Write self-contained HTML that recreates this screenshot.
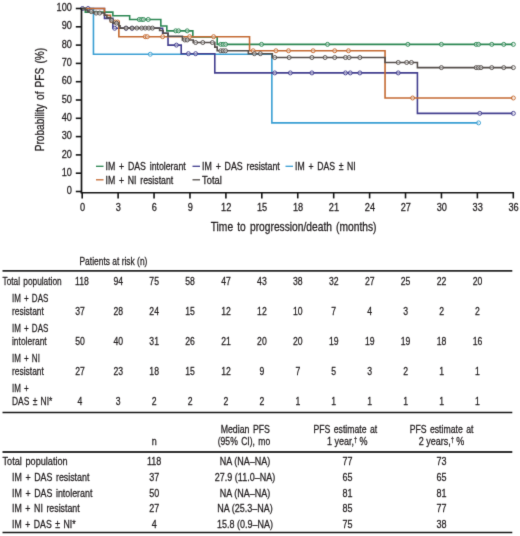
<!DOCTYPE html>
<html><head><meta charset="utf-8"><style>
html,body{margin:0;padding:0;background:#fff;}
svg{display:block;font-family:"Liberation Sans", sans-serif;}
</style></head><body>
<svg width="520" height="536" viewBox="0 0 520 536">
<defs><filter id="bl" color-interpolation-filters="sRGB" filterUnits="userSpaceOnUse" x="0" y="0" width="520" height="536"><feConvolveMatrix order="3" kernelMatrix="1 8 1 8 64 8 1 8 1" divisor="100" edgeMode="duplicate"/></filter></defs>
<g filter="url(#bl)"><rect x="0" y="0" width="520" height="536" fill="#fff"/>
<path d="M81.70,8.50 H93.45 V54.25 H271.86 V122.88 H478.57" fill="none" stroke="#3a9fd3" stroke-width="1.6"/><circle cx="150.28" cy="54.25" r="2.0" fill="#fff" fill-opacity="0.45" stroke="#3a9fd3" stroke-width="0.95"/><circle cx="478.57" cy="122.88" r="2.0" fill="#fff" fill-opacity="0.45" stroke="#3a9fd3" stroke-width="0.95"/>
<path d="M81.70,8.50 H104.48 V18.38 H112.87 V28.26 H162.63 V33.20 H168.03 V45.10 H181.22 V53.70 H214.79 V72.92 H417.42 V113.36 H513.34" fill="none" stroke="#433f8f" stroke-width="1.6"/><circle cx="82.54" cy="8.50" r="2.0" fill="#fff" fill-opacity="0.45" stroke="#433f8f" stroke-width="0.95"/><circle cx="88.05" cy="8.50" r="2.0" fill="#fff" fill-opacity="0.45" stroke="#433f8f" stroke-width="0.95"/><circle cx="114.67" cy="28.26" r="2.0" fill="#fff" fill-opacity="0.45" stroke="#433f8f" stroke-width="0.95"/><circle cx="126.06" cy="28.26" r="2.0" fill="#fff" fill-opacity="0.45" stroke="#433f8f" stroke-width="0.95"/><circle cx="132.06" cy="28.26" r="2.0" fill="#fff" fill-opacity="0.45" stroke="#433f8f" stroke-width="0.95"/><circle cx="176.42" cy="45.10" r="2.0" fill="#fff" fill-opacity="0.45" stroke="#433f8f" stroke-width="0.95"/><circle cx="188.41" cy="53.70" r="2.0" fill="#fff" fill-opacity="0.45" stroke="#433f8f" stroke-width="0.95"/><circle cx="195.61" cy="53.70" r="2.0" fill="#fff" fill-opacity="0.45" stroke="#433f8f" stroke-width="0.95"/><circle cx="274.74" cy="72.92" r="2.0" fill="#fff" fill-opacity="0.45" stroke="#433f8f" stroke-width="0.95"/><circle cx="290.33" cy="72.92" r="2.0" fill="#fff" fill-opacity="0.45" stroke="#433f8f" stroke-width="0.95"/><circle cx="311.91" cy="72.92" r="2.0" fill="#fff" fill-opacity="0.45" stroke="#433f8f" stroke-width="0.95"/><circle cx="345.48" cy="72.92" r="2.0" fill="#fff" fill-opacity="0.45" stroke="#433f8f" stroke-width="0.95"/><circle cx="350.28" cy="72.92" r="2.0" fill="#fff" fill-opacity="0.45" stroke="#433f8f" stroke-width="0.95"/><circle cx="359.87" cy="72.92" r="2.0" fill="#fff" fill-opacity="0.45" stroke="#433f8f" stroke-width="0.95"/><circle cx="398.24" cy="72.92" r="2.0" fill="#fff" fill-opacity="0.45" stroke="#433f8f" stroke-width="0.95"/><circle cx="479.77" cy="113.36" r="2.0" fill="#fff" fill-opacity="0.45" stroke="#433f8f" stroke-width="0.95"/><circle cx="513.34" cy="113.36" r="2.0" fill="#fff" fill-opacity="0.45" stroke="#433f8f" stroke-width="0.95"/>
<path d="M81.70,8.50 H85.30 V12.16 H112.87 V15.82 H129.66 V19.48 H160.83 V26.07 H166.83 V30.83 H192.85 V36.86 H217.19 V44.37 H513.34" fill="none" stroke="#2c8753" stroke-width="1.6"/><circle cx="139.25" cy="19.48" r="2.0" fill="#fff" fill-opacity="0.45" stroke="#2c8753" stroke-width="0.95"/><circle cx="141.65" cy="19.48" r="2.0" fill="#fff" fill-opacity="0.45" stroke="#2c8753" stroke-width="0.95"/><circle cx="143.45" cy="19.48" r="2.0" fill="#fff" fill-opacity="0.45" stroke="#2c8753" stroke-width="0.95"/><circle cx="148.24" cy="19.48" r="2.0" fill="#fff" fill-opacity="0.45" stroke="#2c8753" stroke-width="0.95"/><circle cx="175.70" cy="30.83" r="2.0" fill="#fff" fill-opacity="0.45" stroke="#2c8753" stroke-width="0.95"/><circle cx="178.58" cy="30.83" r="2.0" fill="#fff" fill-opacity="0.45" stroke="#2c8753" stroke-width="0.95"/><circle cx="187.21" cy="30.83" r="2.0" fill="#fff" fill-opacity="0.45" stroke="#2c8753" stroke-width="0.95"/><circle cx="220.78" cy="44.37" r="2.0" fill="#fff" fill-opacity="0.45" stroke="#2c8753" stroke-width="0.95"/><circle cx="223.18" cy="44.37" r="2.0" fill="#fff" fill-opacity="0.45" stroke="#2c8753" stroke-width="0.95"/><circle cx="225.58" cy="44.37" r="2.0" fill="#fff" fill-opacity="0.45" stroke="#2c8753" stroke-width="0.95"/><circle cx="261.55" cy="44.37" r="2.0" fill="#fff" fill-opacity="0.45" stroke="#2c8753" stroke-width="0.95"/><circle cx="327.50" cy="44.37" r="2.0" fill="#fff" fill-opacity="0.45" stroke="#2c8753" stroke-width="0.95"/><circle cx="407.83" cy="44.37" r="2.0" fill="#fff" fill-opacity="0.45" stroke="#2c8753" stroke-width="0.95"/><circle cx="441.40" cy="44.37" r="2.0" fill="#fff" fill-opacity="0.45" stroke="#2c8753" stroke-width="0.95"/><circle cx="476.17" cy="44.37" r="2.0" fill="#fff" fill-opacity="0.45" stroke="#2c8753" stroke-width="0.95"/><circle cx="478.57" cy="44.37" r="2.0" fill="#fff" fill-opacity="0.45" stroke="#2c8753" stroke-width="0.95"/><circle cx="491.76" cy="44.37" r="2.0" fill="#fff" fill-opacity="0.45" stroke="#2c8753" stroke-width="0.95"/><circle cx="503.75" cy="44.37" r="2.0" fill="#fff" fill-opacity="0.45" stroke="#2c8753" stroke-width="0.95"/><circle cx="513.34" cy="44.37" r="2.0" fill="#fff" fill-opacity="0.45" stroke="#2c8753" stroke-width="0.95"/>
<path d="M81.70,8.50 H104.48 V15.27 H110.48 V22.04 H118.87 V36.68 H249.56 V50.77 H385.05 V97.99 H513.34" fill="none" stroke="#c46a32" stroke-width="1.6"/><circle cx="115.27" cy="22.04" r="2.0" fill="#fff" fill-opacity="0.45" stroke="#c46a32" stroke-width="0.95"/><circle cx="117.67" cy="22.04" r="2.0" fill="#fff" fill-opacity="0.45" stroke="#c46a32" stroke-width="0.95"/><circle cx="145.25" cy="36.68" r="2.0" fill="#fff" fill-opacity="0.45" stroke="#c46a32" stroke-width="0.95"/><circle cx="147.29" cy="36.68" r="2.0" fill="#fff" fill-opacity="0.45" stroke="#c46a32" stroke-width="0.95"/><circle cx="162.63" cy="36.68" r="2.0" fill="#fff" fill-opacity="0.45" stroke="#c46a32" stroke-width="0.95"/><circle cx="189.61" cy="36.68" r="2.0" fill="#fff" fill-opacity="0.45" stroke="#c46a32" stroke-width="0.95"/><circle cx="213.59" cy="36.68" r="2.0" fill="#fff" fill-opacity="0.45" stroke="#c46a32" stroke-width="0.95"/><circle cx="253.16" cy="50.77" r="2.0" fill="#fff" fill-opacity="0.45" stroke="#c46a32" stroke-width="0.95"/><circle cx="275.94" cy="50.77" r="2.0" fill="#fff" fill-opacity="0.45" stroke="#c46a32" stroke-width="0.95"/><circle cx="288.53" cy="50.77" r="2.0" fill="#fff" fill-opacity="0.45" stroke="#c46a32" stroke-width="0.95"/><circle cx="313.11" cy="50.77" r="2.0" fill="#fff" fill-opacity="0.45" stroke="#c46a32" stroke-width="0.95"/><circle cx="334.69" cy="50.77" r="2.0" fill="#fff" fill-opacity="0.45" stroke="#c46a32" stroke-width="0.95"/><circle cx="348.48" cy="50.77" r="2.0" fill="#fff" fill-opacity="0.45" stroke="#c46a32" stroke-width="0.95"/><circle cx="412.62" cy="97.99" r="2.0" fill="#fff" fill-opacity="0.45" stroke="#c46a32" stroke-width="0.95"/><circle cx="513.34" cy="97.99" r="2.0" fill="#fff" fill-opacity="0.45" stroke="#c46a32" stroke-width="0.95"/>
<path d="M81.70,8.50 H85.30 V9.96 H87.70 V11.61 H93.45 V13.07 H104.48 V15.27 H106.88 V17.65 H110.48 V20.39 H112.87 V23.14 H118.87 V25.88 H120.07 V28.08 H159.63 V30.46 H163.23 V33.20 H168.03 V36.32 H182.42 V39.98 H193.21 V42.54 H214.79 V47.11 H217.19 V50.77 H248.36 V53.70 H272.34 V57.54 H385.05 V62.48 H417.42 V67.61 H513.34" fill="none" stroke="#544e4b" stroke-width="1.6"/><circle cx="91.29" cy="11.61" r="2.0" fill="#fff" fill-opacity="0.45" stroke="#544e4b" stroke-width="0.95"/><circle cx="96.09" cy="13.07" r="2.0" fill="#fff" fill-opacity="0.45" stroke="#544e4b" stroke-width="0.95"/><circle cx="99.69" cy="13.07" r="2.0" fill="#fff" fill-opacity="0.45" stroke="#544e4b" stroke-width="0.95"/><circle cx="111.68" cy="20.39" r="2.0" fill="#fff" fill-opacity="0.45" stroke="#544e4b" stroke-width="0.95"/><circle cx="116.47" cy="23.14" r="2.0" fill="#fff" fill-opacity="0.45" stroke="#544e4b" stroke-width="0.95"/><circle cx="126.06" cy="28.08" r="2.0" fill="#fff" fill-opacity="0.45" stroke="#544e4b" stroke-width="0.95"/><circle cx="132.06" cy="28.08" r="2.0" fill="#fff" fill-opacity="0.45" stroke="#544e4b" stroke-width="0.95"/><circle cx="136.85" cy="28.08" r="2.0" fill="#fff" fill-opacity="0.45" stroke="#544e4b" stroke-width="0.95"/><circle cx="141.65" cy="28.08" r="2.0" fill="#fff" fill-opacity="0.45" stroke="#544e4b" stroke-width="0.95"/><circle cx="145.25" cy="28.08" r="2.0" fill="#fff" fill-opacity="0.45" stroke="#544e4b" stroke-width="0.95"/><circle cx="148.84" cy="28.08" r="2.0" fill="#fff" fill-opacity="0.45" stroke="#544e4b" stroke-width="0.95"/><circle cx="152.44" cy="28.08" r="2.0" fill="#fff" fill-opacity="0.45" stroke="#544e4b" stroke-width="0.95"/><circle cx="184.81" cy="39.98" r="2.0" fill="#fff" fill-opacity="0.45" stroke="#544e4b" stroke-width="0.95"/><circle cx="187.21" cy="39.98" r="2.0" fill="#fff" fill-opacity="0.45" stroke="#544e4b" stroke-width="0.95"/><circle cx="195.61" cy="42.54" r="2.0" fill="#fff" fill-opacity="0.45" stroke="#544e4b" stroke-width="0.95"/><circle cx="202.80" cy="42.54" r="2.0" fill="#fff" fill-opacity="0.45" stroke="#544e4b" stroke-width="0.95"/><circle cx="212.39" cy="42.54" r="2.0" fill="#fff" fill-opacity="0.45" stroke="#544e4b" stroke-width="0.95"/><circle cx="220.78" cy="50.77" r="2.0" fill="#fff" fill-opacity="0.45" stroke="#544e4b" stroke-width="0.95"/><circle cx="223.18" cy="50.77" r="2.0" fill="#fff" fill-opacity="0.45" stroke="#544e4b" stroke-width="0.95"/><circle cx="225.58" cy="50.77" r="2.0" fill="#fff" fill-opacity="0.45" stroke="#544e4b" stroke-width="0.95"/><circle cx="254.36" cy="53.70" r="2.0" fill="#fff" fill-opacity="0.45" stroke="#544e4b" stroke-width="0.95"/><circle cx="260.35" cy="53.70" r="2.0" fill="#fff" fill-opacity="0.45" stroke="#544e4b" stroke-width="0.95"/><circle cx="274.74" cy="57.54" r="2.0" fill="#fff" fill-opacity="0.45" stroke="#544e4b" stroke-width="0.95"/><circle cx="289.13" cy="57.54" r="2.0" fill="#fff" fill-opacity="0.45" stroke="#544e4b" stroke-width="0.95"/><circle cx="311.91" cy="57.54" r="2.0" fill="#fff" fill-opacity="0.45" stroke="#544e4b" stroke-width="0.95"/><circle cx="325.10" cy="57.54" r="2.0" fill="#fff" fill-opacity="0.45" stroke="#544e4b" stroke-width="0.95"/><circle cx="334.69" cy="57.54" r="2.0" fill="#fff" fill-opacity="0.45" stroke="#544e4b" stroke-width="0.95"/><circle cx="345.48" cy="57.54" r="2.0" fill="#fff" fill-opacity="0.45" stroke="#544e4b" stroke-width="0.95"/><circle cx="349.08" cy="57.54" r="2.0" fill="#fff" fill-opacity="0.45" stroke="#544e4b" stroke-width="0.95"/><circle cx="359.87" cy="57.54" r="2.0" fill="#fff" fill-opacity="0.45" stroke="#544e4b" stroke-width="0.95"/><circle cx="398.24" cy="62.48" r="2.0" fill="#fff" fill-opacity="0.45" stroke="#544e4b" stroke-width="0.95"/><circle cx="406.63" cy="62.48" r="2.0" fill="#fff" fill-opacity="0.45" stroke="#544e4b" stroke-width="0.95"/><circle cx="411.43" cy="62.48" r="2.0" fill="#fff" fill-opacity="0.45" stroke="#544e4b" stroke-width="0.95"/><circle cx="441.40" cy="67.61" r="2.0" fill="#fff" fill-opacity="0.45" stroke="#544e4b" stroke-width="0.95"/><circle cx="476.17" cy="67.61" r="2.0" fill="#fff" fill-opacity="0.45" stroke="#544e4b" stroke-width="0.95"/><circle cx="478.57" cy="67.61" r="2.0" fill="#fff" fill-opacity="0.45" stroke="#544e4b" stroke-width="0.95"/><circle cx="480.97" cy="67.61" r="2.0" fill="#fff" fill-opacity="0.45" stroke="#544e4b" stroke-width="0.95"/><circle cx="491.76" cy="67.61" r="2.0" fill="#fff" fill-opacity="0.45" stroke="#544e4b" stroke-width="0.95"/><circle cx="503.75" cy="67.61" r="2.0" fill="#fff" fill-opacity="0.45" stroke="#544e4b" stroke-width="0.95"/><circle cx="513.34" cy="67.61" r="2.0" fill="#fff" fill-opacity="0.45" stroke="#544e4b" stroke-width="0.95"/>
<line x1="80.70" y1="192.80" x2="514.10" y2="192.80" stroke="#161616" stroke-width="1.6"/>
<line x1="81.50" y1="8.30" x2="81.50" y2="193.30" stroke="#161616" stroke-width="1.7"/>
<line x1="75.80" y1="191.50" x2="81.50" y2="191.50" stroke="#161616" stroke-width="1.6"/>
<text transform="translate(71.90,194.10) scale(0.86,1)" font-size="10.7" text-anchor="end" fill="#231f20" stroke="#231f20" stroke-width="0.28">0</text>
<line x1="75.80" y1="173.20" x2="81.50" y2="173.20" stroke="#161616" stroke-width="1.6"/>
<text transform="translate(71.90,175.80) scale(0.86,1)" font-size="10.7" text-anchor="end" fill="#231f20" stroke="#231f20" stroke-width="0.28">10</text>
<line x1="75.80" y1="154.90" x2="81.50" y2="154.90" stroke="#161616" stroke-width="1.6"/>
<text transform="translate(71.90,157.50) scale(0.86,1)" font-size="10.7" text-anchor="end" fill="#231f20" stroke="#231f20" stroke-width="0.28">20</text>
<line x1="75.80" y1="136.60" x2="81.50" y2="136.60" stroke="#161616" stroke-width="1.6"/>
<text transform="translate(71.90,139.20) scale(0.86,1)" font-size="10.7" text-anchor="end" fill="#231f20" stroke="#231f20" stroke-width="0.28">30</text>
<line x1="75.80" y1="118.30" x2="81.50" y2="118.30" stroke="#161616" stroke-width="1.6"/>
<text transform="translate(71.90,120.90) scale(0.86,1)" font-size="10.7" text-anchor="end" fill="#231f20" stroke="#231f20" stroke-width="0.28">40</text>
<line x1="75.80" y1="100.00" x2="81.50" y2="100.00" stroke="#161616" stroke-width="1.6"/>
<text transform="translate(71.90,102.60) scale(0.86,1)" font-size="10.7" text-anchor="end" fill="#231f20" stroke="#231f20" stroke-width="0.28">50</text>
<line x1="75.80" y1="81.70" x2="81.50" y2="81.70" stroke="#161616" stroke-width="1.6"/>
<text transform="translate(71.90,84.30) scale(0.86,1)" font-size="10.7" text-anchor="end" fill="#231f20" stroke="#231f20" stroke-width="0.28">60</text>
<line x1="75.80" y1="63.40" x2="81.50" y2="63.40" stroke="#161616" stroke-width="1.6"/>
<text transform="translate(71.90,66.00) scale(0.86,1)" font-size="10.7" text-anchor="end" fill="#231f20" stroke="#231f20" stroke-width="0.28">70</text>
<line x1="75.80" y1="45.10" x2="81.50" y2="45.10" stroke="#161616" stroke-width="1.6"/>
<text transform="translate(71.90,47.70) scale(0.86,1)" font-size="10.7" text-anchor="end" fill="#231f20" stroke="#231f20" stroke-width="0.28">80</text>
<line x1="75.80" y1="26.80" x2="81.50" y2="26.80" stroke="#161616" stroke-width="1.6"/>
<text transform="translate(71.90,29.40) scale(0.86,1)" font-size="10.7" text-anchor="end" fill="#231f20" stroke="#231f20" stroke-width="0.28">90</text>
<line x1="75.80" y1="8.50" x2="81.50" y2="8.50" stroke="#161616" stroke-width="1.6"/>
<text transform="translate(71.90,11.10) scale(0.86,1)" font-size="10.7" text-anchor="end" fill="#231f20" stroke="#231f20" stroke-width="0.28">100</text>
<line x1="82.20" y1="192.80" x2="82.20" y2="198.40" stroke="#161616" stroke-width="1.6"/>
<text transform="translate(82.50,210.50) scale(0.86,1)" font-size="10.7" text-anchor="middle" fill="#231f20" stroke="#231f20" stroke-width="0.28">0</text>
<line x1="118.12" y1="192.80" x2="118.12" y2="198.40" stroke="#161616" stroke-width="1.6"/>
<text transform="translate(118.42,210.50) scale(0.86,1)" font-size="10.7" text-anchor="middle" fill="#231f20" stroke="#231f20" stroke-width="0.28">3</text>
<line x1="154.05" y1="192.80" x2="154.05" y2="198.40" stroke="#161616" stroke-width="1.6"/>
<text transform="translate(154.35,210.50) scale(0.86,1)" font-size="10.7" text-anchor="middle" fill="#231f20" stroke="#231f20" stroke-width="0.28">6</text>
<line x1="189.97" y1="192.80" x2="189.97" y2="198.40" stroke="#161616" stroke-width="1.6"/>
<text transform="translate(190.28,210.50) scale(0.86,1)" font-size="10.7" text-anchor="middle" fill="#231f20" stroke="#231f20" stroke-width="0.28">9</text>
<line x1="225.90" y1="192.80" x2="225.90" y2="198.40" stroke="#161616" stroke-width="1.6"/>
<text transform="translate(226.20,210.50) scale(0.86,1)" font-size="10.7" text-anchor="middle" fill="#231f20" stroke="#231f20" stroke-width="0.28">12</text>
<line x1="261.82" y1="192.80" x2="261.82" y2="198.40" stroke="#161616" stroke-width="1.6"/>
<text transform="translate(262.12,210.50) scale(0.86,1)" font-size="10.7" text-anchor="middle" fill="#231f20" stroke="#231f20" stroke-width="0.28">15</text>
<line x1="297.75" y1="192.80" x2="297.75" y2="198.40" stroke="#161616" stroke-width="1.6"/>
<text transform="translate(298.05,210.50) scale(0.86,1)" font-size="10.7" text-anchor="middle" fill="#231f20" stroke="#231f20" stroke-width="0.28">18</text>
<line x1="333.68" y1="192.80" x2="333.68" y2="198.40" stroke="#161616" stroke-width="1.6"/>
<text transform="translate(333.98,210.50) scale(0.86,1)" font-size="10.7" text-anchor="middle" fill="#231f20" stroke="#231f20" stroke-width="0.28">21</text>
<line x1="369.60" y1="192.80" x2="369.60" y2="198.40" stroke="#161616" stroke-width="1.6"/>
<text transform="translate(369.90,210.50) scale(0.86,1)" font-size="10.7" text-anchor="middle" fill="#231f20" stroke="#231f20" stroke-width="0.28">24</text>
<line x1="405.52" y1="192.80" x2="405.52" y2="198.40" stroke="#161616" stroke-width="1.6"/>
<text transform="translate(405.82,210.50) scale(0.86,1)" font-size="10.7" text-anchor="middle" fill="#231f20" stroke="#231f20" stroke-width="0.28">27</text>
<line x1="441.45" y1="192.80" x2="441.45" y2="198.40" stroke="#161616" stroke-width="1.6"/>
<text transform="translate(441.75,210.50) scale(0.86,1)" font-size="10.7" text-anchor="middle" fill="#231f20" stroke="#231f20" stroke-width="0.28">30</text>
<line x1="477.38" y1="192.80" x2="477.38" y2="198.40" stroke="#161616" stroke-width="1.6"/>
<text transform="translate(477.68,210.50) scale(0.86,1)" font-size="10.7" text-anchor="middle" fill="#231f20" stroke="#231f20" stroke-width="0.28">33</text>
<line x1="513.30" y1="192.80" x2="513.30" y2="198.40" stroke="#161616" stroke-width="1.6"/>
<text transform="translate(513.60,210.50) scale(0.86,1)" font-size="10.7" text-anchor="middle" fill="#231f20" stroke="#231f20" stroke-width="0.28">36</text>
<text transform="translate(293.60,231.20) scale(0.84,1)" font-size="12.2" text-anchor="middle" fill="#231f20" stroke="#231f20" stroke-width="0.28" word-spacing="1.6">Time to progression/death (months)</text>
<text transform="translate(43.8,99.6) rotate(-90) scale(0.83,1)" font-size="12.2" text-anchor="middle" word-spacing="1.6" fill="#231f20" stroke="#231f20" stroke-width="0.28">Probability of PFS (%)</text>
<line x1="96.00" y1="166.30" x2="103.50" y2="166.30" stroke="#2c8753" stroke-width="1.3"/>
<text transform="translate(105.60,170.10) scale(0.82,1)" font-size="10.7" text-anchor="start" fill="#231f20" stroke="#231f20" stroke-width="0.28" word-spacing="1.6">IM + DAS intolerant</text>
<line x1="192.50" y1="166.30" x2="200.00" y2="166.30" stroke="#433f8f" stroke-width="1.3"/>
<text transform="translate(202.10,170.10) scale(0.825,1)" font-size="10.7" text-anchor="start" fill="#231f20" stroke="#231f20" stroke-width="0.28" word-spacing="1.6">IM + DAS resistant</text>
<line x1="285.50" y1="166.30" x2="293.00" y2="166.30" stroke="#3a9fd3" stroke-width="1.3"/>
<text transform="translate(295.10,170.10) scale(0.81,1)" font-size="10.7" text-anchor="start" fill="#231f20" stroke="#231f20" stroke-width="0.28" word-spacing="1.6">IM + DAS ± NI</text>
<line x1="96.00" y1="179.80" x2="103.50" y2="179.80" stroke="#c46a32" stroke-width="1.3"/>
<text transform="translate(105.60,183.90) scale(0.815,1)" font-size="10.7" text-anchor="start" fill="#231f20" stroke="#231f20" stroke-width="0.28" word-spacing="1.6">IM + NI resistant</text>
<line x1="192.50" y1="179.80" x2="200.00" y2="179.80" stroke="#544e4b" stroke-width="1.3"/>
<text transform="translate(202.10,183.90) scale(0.87,1)" font-size="10.7" text-anchor="start" fill="#231f20" stroke="#231f20" stroke-width="0.28" word-spacing="1.6">Total</text>
<text transform="translate(79.50,265.00) scale(0.74,1)" font-size="11.4" text-anchor="start" fill="#231f20" stroke="#231f20" stroke-width="0.28">Patients at risk (n)</text>
<line x1="2.50" y1="270.80" x2="512.30" y2="270.80" stroke="#262626" stroke-width="1.8"/>
<text transform="translate(2.50,284.80) scale(0.7289,1)" font-size="11.4" text-anchor="start" fill="#231f20" stroke="#231f20" stroke-width="0.28" word-spacing="1.3">Total population</text>
<text transform="translate(82.00,284.80) scale(0.76,1)" font-size="11.4" text-anchor="middle" fill="#231f20" stroke="#231f20" stroke-width="0.28">118</text>
<text transform="translate(118.22,284.80) scale(0.76,1)" font-size="11.4" text-anchor="middle" fill="#231f20" stroke="#231f20" stroke-width="0.28">94</text>
<text transform="translate(154.15,284.80) scale(0.76,1)" font-size="11.4" text-anchor="middle" fill="#231f20" stroke="#231f20" stroke-width="0.28">75</text>
<text transform="translate(190.07,284.80) scale(0.76,1)" font-size="11.4" text-anchor="middle" fill="#231f20" stroke="#231f20" stroke-width="0.28">58</text>
<text transform="translate(226.00,284.80) scale(0.76,1)" font-size="11.4" text-anchor="middle" fill="#231f20" stroke="#231f20" stroke-width="0.28">47</text>
<text transform="translate(261.93,284.80) scale(0.76,1)" font-size="11.4" text-anchor="middle" fill="#231f20" stroke="#231f20" stroke-width="0.28">43</text>
<text transform="translate(297.85,284.80) scale(0.76,1)" font-size="11.4" text-anchor="middle" fill="#231f20" stroke="#231f20" stroke-width="0.28">38</text>
<text transform="translate(333.78,284.80) scale(0.76,1)" font-size="11.4" text-anchor="middle" fill="#231f20" stroke="#231f20" stroke-width="0.28">32</text>
<text transform="translate(369.70,284.80) scale(0.76,1)" font-size="11.4" text-anchor="middle" fill="#231f20" stroke="#231f20" stroke-width="0.28">27</text>
<text transform="translate(405.62,284.80) scale(0.76,1)" font-size="11.4" text-anchor="middle" fill="#231f20" stroke="#231f20" stroke-width="0.28">25</text>
<text transform="translate(441.55,284.80) scale(0.76,1)" font-size="11.4" text-anchor="middle" fill="#231f20" stroke="#231f20" stroke-width="0.28">22</text>
<text transform="translate(477.48,284.80) scale(0.76,1)" font-size="11.4" text-anchor="middle" fill="#231f20" stroke="#231f20" stroke-width="0.28">20</text>
<text transform="translate(12.00,302.00) scale(0.703,1)" font-size="11.4" text-anchor="start" fill="#231f20" stroke="#231f20" stroke-width="0.28" word-spacing="1.3">IM + DAS</text>
<text transform="translate(12.00,314.80) scale(0.74,1)" font-size="11.4" text-anchor="start" fill="#231f20" stroke="#231f20" stroke-width="0.28" word-spacing="1.3">resistant</text>
<text transform="translate(80.00,314.80) scale(0.76,1)" font-size="11.4" text-anchor="middle" fill="#231f20" stroke="#231f20" stroke-width="0.28">37</text>
<text transform="translate(118.22,314.80) scale(0.76,1)" font-size="11.4" text-anchor="middle" fill="#231f20" stroke="#231f20" stroke-width="0.28">28</text>
<text transform="translate(154.15,314.80) scale(0.76,1)" font-size="11.4" text-anchor="middle" fill="#231f20" stroke="#231f20" stroke-width="0.28">24</text>
<text transform="translate(190.07,314.80) scale(0.76,1)" font-size="11.4" text-anchor="middle" fill="#231f20" stroke="#231f20" stroke-width="0.28">15</text>
<text transform="translate(226.00,314.80) scale(0.76,1)" font-size="11.4" text-anchor="middle" fill="#231f20" stroke="#231f20" stroke-width="0.28">12</text>
<text transform="translate(261.93,314.80) scale(0.76,1)" font-size="11.4" text-anchor="middle" fill="#231f20" stroke="#231f20" stroke-width="0.28">12</text>
<text transform="translate(297.85,314.80) scale(0.76,1)" font-size="11.4" text-anchor="middle" fill="#231f20" stroke="#231f20" stroke-width="0.28">10</text>
<text transform="translate(333.78,314.80) scale(0.76,1)" font-size="11.4" text-anchor="middle" fill="#231f20" stroke="#231f20" stroke-width="0.28">7</text>
<text transform="translate(369.70,314.80) scale(0.76,1)" font-size="11.4" text-anchor="middle" fill="#231f20" stroke="#231f20" stroke-width="0.28">4</text>
<text transform="translate(405.62,314.80) scale(0.76,1)" font-size="11.4" text-anchor="middle" fill="#231f20" stroke="#231f20" stroke-width="0.28">3</text>
<text transform="translate(441.55,314.80) scale(0.76,1)" font-size="11.4" text-anchor="middle" fill="#231f20" stroke="#231f20" stroke-width="0.28">2</text>
<text transform="translate(477.48,314.80) scale(0.76,1)" font-size="11.4" text-anchor="middle" fill="#231f20" stroke="#231f20" stroke-width="0.28">2</text>
<text transform="translate(12.00,332.00) scale(0.703,1)" font-size="11.4" text-anchor="start" fill="#231f20" stroke="#231f20" stroke-width="0.28" word-spacing="1.3">IM + DAS</text>
<text transform="translate(12.00,344.80) scale(0.74,1)" font-size="11.4" text-anchor="start" fill="#231f20" stroke="#231f20" stroke-width="0.28" word-spacing="1.3">intolerant</text>
<text transform="translate(80.00,344.80) scale(0.76,1)" font-size="11.4" text-anchor="middle" fill="#231f20" stroke="#231f20" stroke-width="0.28">50</text>
<text transform="translate(118.22,344.80) scale(0.76,1)" font-size="11.4" text-anchor="middle" fill="#231f20" stroke="#231f20" stroke-width="0.28">40</text>
<text transform="translate(154.15,344.80) scale(0.76,1)" font-size="11.4" text-anchor="middle" fill="#231f20" stroke="#231f20" stroke-width="0.28">31</text>
<text transform="translate(190.07,344.80) scale(0.76,1)" font-size="11.4" text-anchor="middle" fill="#231f20" stroke="#231f20" stroke-width="0.28">26</text>
<text transform="translate(226.00,344.80) scale(0.76,1)" font-size="11.4" text-anchor="middle" fill="#231f20" stroke="#231f20" stroke-width="0.28">21</text>
<text transform="translate(261.93,344.80) scale(0.76,1)" font-size="11.4" text-anchor="middle" fill="#231f20" stroke="#231f20" stroke-width="0.28">20</text>
<text transform="translate(297.85,344.80) scale(0.76,1)" font-size="11.4" text-anchor="middle" fill="#231f20" stroke="#231f20" stroke-width="0.28">20</text>
<text transform="translate(333.78,344.80) scale(0.76,1)" font-size="11.4" text-anchor="middle" fill="#231f20" stroke="#231f20" stroke-width="0.28">19</text>
<text transform="translate(369.70,344.80) scale(0.76,1)" font-size="11.4" text-anchor="middle" fill="#231f20" stroke="#231f20" stroke-width="0.28">19</text>
<text transform="translate(405.62,344.80) scale(0.76,1)" font-size="11.4" text-anchor="middle" fill="#231f20" stroke="#231f20" stroke-width="0.28">19</text>
<text transform="translate(441.55,344.80) scale(0.76,1)" font-size="11.4" text-anchor="middle" fill="#231f20" stroke="#231f20" stroke-width="0.28">18</text>
<text transform="translate(477.48,344.80) scale(0.76,1)" font-size="11.4" text-anchor="middle" fill="#231f20" stroke="#231f20" stroke-width="0.28">16</text>
<text transform="translate(12.00,362.00) scale(0.703,1)" font-size="11.4" text-anchor="start" fill="#231f20" stroke="#231f20" stroke-width="0.28" word-spacing="1.3">IM + NI</text>
<text transform="translate(12.00,374.80) scale(0.74,1)" font-size="11.4" text-anchor="start" fill="#231f20" stroke="#231f20" stroke-width="0.28" word-spacing="1.3">resistant</text>
<text transform="translate(80.00,374.80) scale(0.76,1)" font-size="11.4" text-anchor="middle" fill="#231f20" stroke="#231f20" stroke-width="0.28">27</text>
<text transform="translate(118.22,374.80) scale(0.76,1)" font-size="11.4" text-anchor="middle" fill="#231f20" stroke="#231f20" stroke-width="0.28">23</text>
<text transform="translate(154.15,374.80) scale(0.76,1)" font-size="11.4" text-anchor="middle" fill="#231f20" stroke="#231f20" stroke-width="0.28">18</text>
<text transform="translate(190.07,374.80) scale(0.76,1)" font-size="11.4" text-anchor="middle" fill="#231f20" stroke="#231f20" stroke-width="0.28">15</text>
<text transform="translate(226.00,374.80) scale(0.76,1)" font-size="11.4" text-anchor="middle" fill="#231f20" stroke="#231f20" stroke-width="0.28">12</text>
<text transform="translate(261.93,374.80) scale(0.76,1)" font-size="11.4" text-anchor="middle" fill="#231f20" stroke="#231f20" stroke-width="0.28">9</text>
<text transform="translate(297.85,374.80) scale(0.76,1)" font-size="11.4" text-anchor="middle" fill="#231f20" stroke="#231f20" stroke-width="0.28">7</text>
<text transform="translate(333.78,374.80) scale(0.76,1)" font-size="11.4" text-anchor="middle" fill="#231f20" stroke="#231f20" stroke-width="0.28">5</text>
<text transform="translate(369.70,374.80) scale(0.76,1)" font-size="11.4" text-anchor="middle" fill="#231f20" stroke="#231f20" stroke-width="0.28">3</text>
<text transform="translate(405.62,374.80) scale(0.76,1)" font-size="11.4" text-anchor="middle" fill="#231f20" stroke="#231f20" stroke-width="0.28">2</text>
<text transform="translate(441.55,374.80) scale(0.76,1)" font-size="11.4" text-anchor="middle" fill="#231f20" stroke="#231f20" stroke-width="0.28">1</text>
<text transform="translate(477.48,374.80) scale(0.76,1)" font-size="11.4" text-anchor="middle" fill="#231f20" stroke="#231f20" stroke-width="0.28">1</text>
<text transform="translate(12.00,392.00) scale(0.703,1)" font-size="11.4" text-anchor="start" fill="#231f20" stroke="#231f20" stroke-width="0.28" word-spacing="1.3">IM +</text>
<text transform="translate(12.00,404.80) scale(0.74,1)" font-size="11.4" text-anchor="start" fill="#231f20" stroke="#231f20" stroke-width="0.28" word-spacing="1.3">DAS ± NI*</text>
<text transform="translate(80.00,404.80) scale(0.76,1)" font-size="11.4" text-anchor="middle" fill="#231f20" stroke="#231f20" stroke-width="0.28">4</text>
<text transform="translate(118.22,404.80) scale(0.76,1)" font-size="11.4" text-anchor="middle" fill="#231f20" stroke="#231f20" stroke-width="0.28">3</text>
<text transform="translate(154.15,404.80) scale(0.76,1)" font-size="11.4" text-anchor="middle" fill="#231f20" stroke="#231f20" stroke-width="0.28">2</text>
<text transform="translate(190.07,404.80) scale(0.76,1)" font-size="11.4" text-anchor="middle" fill="#231f20" stroke="#231f20" stroke-width="0.28">2</text>
<text transform="translate(226.00,404.80) scale(0.76,1)" font-size="11.4" text-anchor="middle" fill="#231f20" stroke="#231f20" stroke-width="0.28">2</text>
<text transform="translate(261.93,404.80) scale(0.76,1)" font-size="11.4" text-anchor="middle" fill="#231f20" stroke="#231f20" stroke-width="0.28">2</text>
<text transform="translate(297.85,404.80) scale(0.76,1)" font-size="11.4" text-anchor="middle" fill="#231f20" stroke="#231f20" stroke-width="0.28">1</text>
<text transform="translate(333.78,404.80) scale(0.76,1)" font-size="11.4" text-anchor="middle" fill="#231f20" stroke="#231f20" stroke-width="0.28">1</text>
<text transform="translate(369.70,404.80) scale(0.76,1)" font-size="11.4" text-anchor="middle" fill="#231f20" stroke="#231f20" stroke-width="0.28">1</text>
<text transform="translate(405.62,404.80) scale(0.76,1)" font-size="11.4" text-anchor="middle" fill="#231f20" stroke="#231f20" stroke-width="0.28">1</text>
<text transform="translate(441.55,404.80) scale(0.76,1)" font-size="11.4" text-anchor="middle" fill="#231f20" stroke="#231f20" stroke-width="0.28">1</text>
<text transform="translate(477.48,404.80) scale(0.76,1)" font-size="11.4" text-anchor="middle" fill="#231f20" stroke="#231f20" stroke-width="0.28">1</text>
<line x1="2.50" y1="412.50" x2="512.30" y2="412.50" stroke="#161616" stroke-width="1.4"/>
<text transform="translate(154.20,445.30) scale(0.81,1)" font-size="11.1" text-anchor="middle" fill="#231f20" stroke="#231f20" stroke-width="0.28">n</text>
<text transform="translate(245.30,433.10) scale(0.7897500000000001,1)" font-size="11.1" text-anchor="middle" fill="#231f20" stroke="#231f20" stroke-width="0.28" word-spacing="1.3">Median PFS</text>
<text transform="translate(244.00,445.30) scale(0.7735500000000001,1)" font-size="11.1" text-anchor="middle" fill="#231f20" stroke="#231f20" stroke-width="0.28" word-spacing="1.3">(95% CI), mo</text>
<text transform="translate(345.30,433.10) scale(0.7816500000000001,1)" font-size="11.1" text-anchor="middle" fill="#231f20" stroke="#231f20" stroke-width="0.28" word-spacing="1.3">PFS estimate at</text>
<text transform="translate(347.30,445.30) scale(0.81,1)" font-size="11.1" text-anchor="middle" fill="#231f20" stroke="#231f20" stroke-width="0.28">1 year,<tspan font-size="7" dy="-3.5">†</tspan><tspan dy="3.5"> %</tspan></text>
<text transform="translate(441.50,433.10) scale(0.7816500000000001,1)" font-size="11.1" text-anchor="middle" fill="#231f20" stroke="#231f20" stroke-width="0.28" word-spacing="1.3">PFS estimate at</text>
<text transform="translate(441.50,445.30) scale(0.81,1)" font-size="11.1" text-anchor="middle" fill="#231f20" stroke="#231f20" stroke-width="0.28">2 years,<tspan font-size="7" dy="-3.5">†</tspan><tspan dy="3.5"> %</tspan></text>
<line x1="2.50" y1="452.00" x2="512.30" y2="452.00" stroke="#303030" stroke-width="2.0"/>
<text transform="translate(2.50,464.80) scale(0.82346,1)" font-size="11.1" text-anchor="start" fill="#231f20" stroke="#231f20" stroke-width="0.28" word-spacing="1.4">Total population</text>
<text transform="translate(154.20,464.80) scale(0.81,1)" font-size="11.1" text-anchor="middle" fill="#231f20" stroke="#231f20" stroke-width="0.28">118</text>
<text transform="translate(245.00,464.80) scale(0.81,1)" font-size="11.1" text-anchor="middle" fill="#231f20" stroke="#231f20" stroke-width="0.28">NA (NA–NA)</text>
<text transform="translate(347.40,464.80) scale(0.81,1)" font-size="11.1" text-anchor="middle" fill="#231f20" stroke="#231f20" stroke-width="0.28">77</text>
<text transform="translate(441.50,464.80) scale(0.81,1)" font-size="11.1" text-anchor="middle" fill="#231f20" stroke="#231f20" stroke-width="0.28">73</text>
<text transform="translate(12.00,480.65) scale(0.79838,1)" font-size="11.1" text-anchor="start" fill="#231f20" stroke="#231f20" stroke-width="0.28" word-spacing="1.4">IM + DAS resistant</text>
<text transform="translate(154.20,480.65) scale(0.81,1)" font-size="11.1" text-anchor="middle" fill="#231f20" stroke="#231f20" stroke-width="0.28">37</text>
<text transform="translate(245.00,480.65) scale(0.81,1)" font-size="11.1" text-anchor="middle" fill="#231f20" stroke="#231f20" stroke-width="0.28">27.9 (11.0–NA)</text>
<text transform="translate(347.40,480.65) scale(0.81,1)" font-size="11.1" text-anchor="middle" fill="#231f20" stroke="#231f20" stroke-width="0.28">65</text>
<text transform="translate(441.50,480.65) scale(0.81,1)" font-size="11.1" text-anchor="middle" fill="#231f20" stroke="#231f20" stroke-width="0.28">65</text>
<text transform="translate(12.00,496.50) scale(0.79838,1)" font-size="11.1" text-anchor="start" fill="#231f20" stroke="#231f20" stroke-width="0.28" word-spacing="1.4">IM + DAS intolerant</text>
<text transform="translate(154.20,496.50) scale(0.81,1)" font-size="11.1" text-anchor="middle" fill="#231f20" stroke="#231f20" stroke-width="0.28">50</text>
<text transform="translate(245.00,496.50) scale(0.81,1)" font-size="11.1" text-anchor="middle" fill="#231f20" stroke="#231f20" stroke-width="0.28">NA (NA–NA)</text>
<text transform="translate(347.40,496.50) scale(0.81,1)" font-size="11.1" text-anchor="middle" fill="#231f20" stroke="#231f20" stroke-width="0.28">81</text>
<text transform="translate(441.50,496.50) scale(0.81,1)" font-size="11.1" text-anchor="middle" fill="#231f20" stroke="#231f20" stroke-width="0.28">81</text>
<text transform="translate(12.00,512.35) scale(0.7941999999999999,1)" font-size="11.1" text-anchor="start" fill="#231f20" stroke="#231f20" stroke-width="0.28" word-spacing="1.4">IM + NI resistant</text>
<text transform="translate(154.20,512.35) scale(0.81,1)" font-size="11.1" text-anchor="middle" fill="#231f20" stroke="#231f20" stroke-width="0.28">27</text>
<text transform="translate(245.00,512.35) scale(0.81,1)" font-size="11.1" text-anchor="middle" fill="#231f20" stroke="#231f20" stroke-width="0.28">NA (25.3–NA)</text>
<text transform="translate(347.40,512.35) scale(0.81,1)" font-size="11.1" text-anchor="middle" fill="#231f20" stroke="#231f20" stroke-width="0.28">85</text>
<text transform="translate(441.50,512.35) scale(0.81,1)" font-size="11.1" text-anchor="middle" fill="#231f20" stroke="#231f20" stroke-width="0.28">77</text>
<text transform="translate(12.00,528.20) scale(0.7858399999999999,1)" font-size="11.1" text-anchor="start" fill="#231f20" stroke="#231f20" stroke-width="0.28" word-spacing="1.4">IM + DAS ± NI*</text>
<text transform="translate(154.20,528.20) scale(0.81,1)" font-size="11.1" text-anchor="middle" fill="#231f20" stroke="#231f20" stroke-width="0.28">4</text>
<text transform="translate(245.00,528.20) scale(0.81,1)" font-size="11.1" text-anchor="middle" fill="#231f20" stroke="#231f20" stroke-width="0.28">15.8 (0.9–NA)</text>
<text transform="translate(347.40,528.20) scale(0.81,1)" font-size="11.1" text-anchor="middle" fill="#231f20" stroke="#231f20" stroke-width="0.28">75</text>
<text transform="translate(441.50,528.20) scale(0.81,1)" font-size="11.1" text-anchor="middle" fill="#231f20" stroke="#231f20" stroke-width="0.28">38</text>
<line x1="2.50" y1="532.50" x2="512.30" y2="532.50" stroke="#161616" stroke-width="1.5"/>
</g></svg></body></html>
